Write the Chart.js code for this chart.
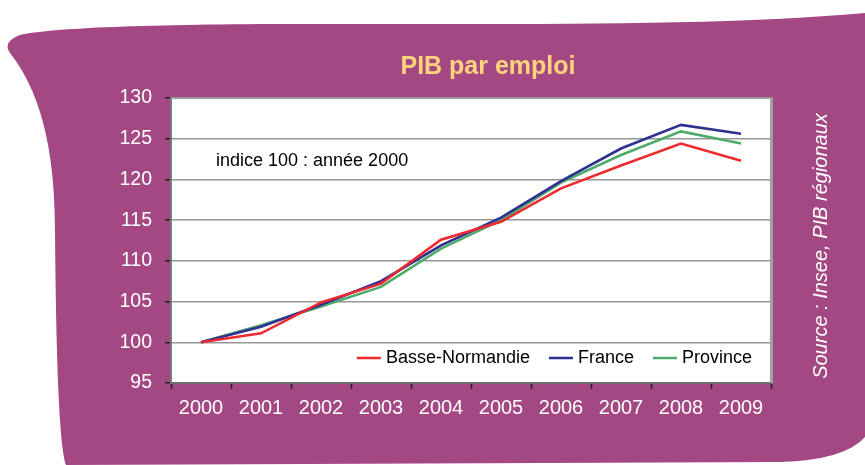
<!DOCTYPE html>
<html>
<head>
<meta charset="utf-8">
<script src="https://cdn.jsdelivr.net/npm/chart.js@4/dist/chart.umd.min.js"></script>
<style>
  html, body { margin: 0; padding: 0; background: #ffffff; }
  #wrap { width: 865px; height: 465px; position: relative; }
</style>
</head>
<body>
<div id="wrap"><canvas id="c" width="865" height="465"></canvas></div>
<script>
const years = ['2000', '2001', '2002', '2003', '2004', '2005', '2006', '2007', '2008', '2009'];
const basseNormandie = [100, 101.1, 104.9, 107.2, 112.6, 114.8, 118.9, 121.7, 124.4, 122.3];
const france = [100, 101.9, 104.6, 107.5, 111.9, 115.3, 119.8, 123.8, 126.7, 125.6];
const province = [100, 102.1, 104.4, 106.8, 111.5, 115.0, 119.6, 123.0, 125.9, 124.4];
const seriesNames = ['Basse-Normandie', 'France', 'Province'];
const seriesColors = ['#ee2a2e', '#2e3192', '#4fab6c'];
const yMin = 95, yMax = 130, yStep = 5;
const titleText = 'PIB par emploi';
const noteText = 'indice 100 : année 2000';
const sourceText = 'Source : Insee, PIB régionaux';

const FONT = "'Liberation Sans', Arial, sans-serif";
const PURPLE = '#a34882';

const decorPlugin = {
  id: 'decor',
  beforeDraw(chart) {
    const ctx = chart.ctx;
    const a = chart.chartArea;
    ctx.save();
    ctx.fillStyle = PURPLE;
    ctx.beginPath();
    ctx.moveTo(10, 53);
    ctx.quadraticCurveTo(2, 42, 20, 35);
    ctx.bezierCurveTo(50, 28, 150, 24, 300, 24);
    ctx.bezierCurveTo(520, 24, 720, 26, 865, 13);
    ctx.lineTo(865, 437);
    ctx.quadraticCurveTo(845, 460, 780, 462);
    ctx.lineTo(66, 465);
    ctx.bezierCurveTo(58, 440, 56, 330, 55, 233);
    ctx.bezierCurveTo(55, 168, 47, 100, 10, 53);
    ctx.closePath();
    ctx.fill();
    ctx.fillStyle = '#ffffff';
    ctx.fillRect(a.left, a.top, a.right - a.left, a.bottom - a.top);
    ctx.restore();
  },
  afterDraw(chart) {
    const ctx = chart.ctx;
    const a = chart.chartArea;
    ctx.save();
    // frame top & right
    ctx.strokeStyle = '#959595';
    ctx.lineWidth = 1.5;
    ctx.beginPath();
    ctx.moveTo(a.left, a.top);
    ctx.lineTo(a.right, a.top);
    ctx.stroke();
    ctx.strokeStyle = '#a0a0a0';
    ctx.lineWidth = 3;
    ctx.beginPath();
    ctx.moveTo(a.right + 0.5, a.top - 0.7);
    ctx.lineTo(a.right + 0.5, a.bottom);
    ctx.stroke();

    // title
    ctx.fillStyle = '#ffd27c';
    ctx.font = 'bold 25px ' + FONT;
    ctx.textAlign = 'center';
    ctx.textBaseline = 'middle';
    ctx.fillText(titleText, 488, 67);

    // note
    ctx.fillStyle = '#000000';
    ctx.font = '18px ' + FONT;
    ctx.textAlign = 'left';
    ctx.fillText(noteText, a.left + 45, 161);

    // legend inside plot
    ctx.font = '18px ' + FONT;
    const sample = 24, gap = 5, spacing = 19;
    const widths = seriesNames.map(n => ctx.measureText(n).width);
    let total = 0;
    widths.forEach((w, i) => { total += sample + gap + w + (i < widths.length - 1 ? spacing : 0); });
    let x = a.right - 19 - total;
    const ly = a.bottom - 25;
    chart.data.datasets.forEach((ds, i) => {
      ctx.strokeStyle = ds.borderColor;
      ctx.lineWidth = 2.5;
      ctx.beginPath();
      ctx.moveTo(x, ly);
      ctx.lineTo(x + sample, ly);
      ctx.stroke();
      ctx.fillStyle = '#000000';
      ctx.textAlign = 'left';
      ctx.textBaseline = 'middle';
      ctx.fillText(ds.label, x + sample + gap, ly);
      x += sample + gap + widths[i] + spacing;
    });

    // source (rotated)
    ctx.translate(821, 246);
    ctx.rotate(-Math.PI / 2);
    ctx.fillStyle = '#ffffff';
    ctx.font = 'italic 20px ' + FONT;
    ctx.textAlign = 'center';
    ctx.textBaseline = 'middle';
    ctx.fillText(sourceText, 0, 0);
    ctx.restore();
  }
};

const datasets = [basseNormandie, france, province].map((vals, i) => ({
  label: seriesNames[i],
  data: vals,
  borderColor: seriesColors[i],
  backgroundColor: seriesColors[i],
  borderWidth: 2.6,
  pointRadius: 0,
  pointHoverRadius: 0,
  tension: 0,
  fill: false
}));

new Chart(document.getElementById('c'), {
  type: 'line',
  data: { labels: years, datasets: datasets },
  options: {
    responsive: false,
    animation: false,
    events: [],
    layout: { padding: { left: 0, top: 98, right: 94, bottom: 0 } },
    plugins: {
      legend: { display: false },
      title: { display: false },
      tooltip: { enabled: false }
    },
    scales: {
      x: {
        offset: true,
        grid: {
          display: true,
          drawOnChartArea: false,
          drawTicks: true,
          offset: true,
          tickLength: 6,
          tickColor: '#222222',
          tickWidth: 1.5
        },
        border: { display: true, color: '#6e6e6e', width: 2 },
        ticks: {
          color: '#ffffff',
          font: { family: FONT, size: 20 },
          padding: 7,
          maxRotation: 0,
          autoSkip: false
        },
        afterFit(scale) { scale.height = 82; }
      },
      y: {
        min: yMin,
        max: yMax,
        grid: {
          color: '#969696',
          lineWidth: 1.5,
          drawTicks: true,
          tickLength: 6,
          tickColor: '#222222',
          tickWidth: 1.5
        },
        border: { display: true, color: '#7a7a7a', width: 2 },
        ticks: {
          stepSize: yStep,
          color: '#ffffff',
          font: { family: FONT, size: 19.5 },
          padding: 13
        },
        afterFit(scale) { scale.width = 171; }
      }
    }
  },
  plugins: [decorPlugin]
});
</script>
</body>
</html>
